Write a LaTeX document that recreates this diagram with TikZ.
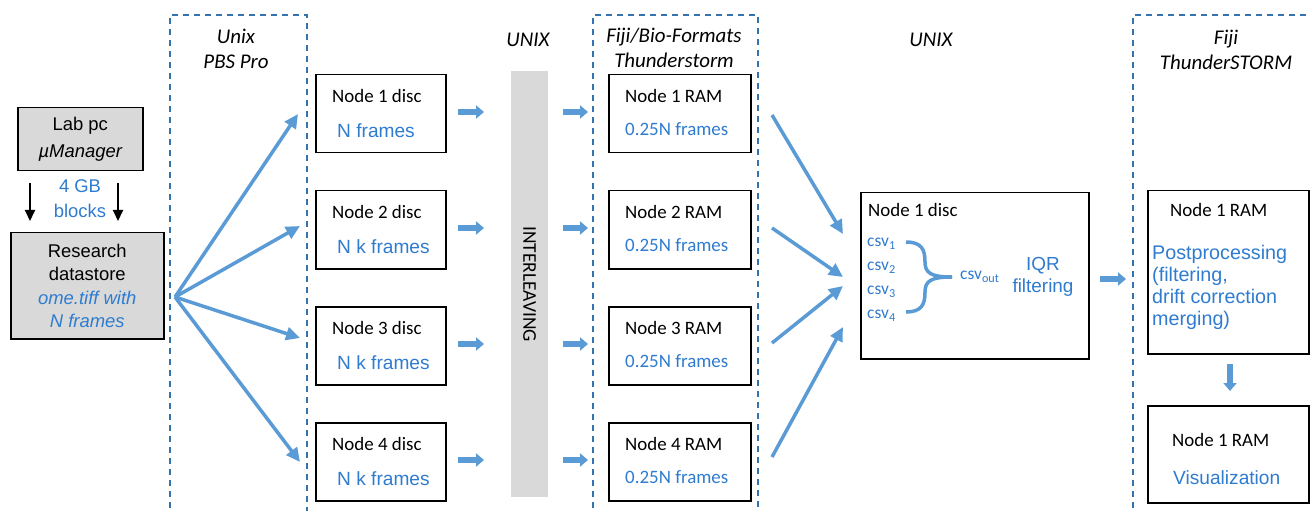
\documentclass[tikz,border=0pt]{standalone}
\usepackage{fontspec}
\setmainfont{Carlito}
\newfontfamily\arial{Liberation Sans}
\usetikzlibrary{arrows.meta}
\definecolor{arrowblue}{HTML}{5B9BD5}
\definecolor{txtblue}{HTML}{2E7BCF}
\definecolor{dashblue}{HTML}{3473AE}
\definecolor{boxgray}{HTML}{D9D9D9}
\tikzset{
  box/.style={draw=black, line width=1.5bp, inner sep=0pt},
  dbox/.style={draw=dashblue, dash pattern=on 6bp off 5bp, line width=1.8bp},
  fanarrow/.style={draw=arrowblue, line width=3.5bp, -{Triangle[length=14bp,width=13bp]}},
  fatarrow/.style={draw=arrowblue, line width=5.5bp, -{Triangle[length=8bp,width=13bp]}},
  blk/.style={font=\fontsize{19}{22}\selectfont, anchor=west, inner sep=0pt},
  blu/.style={font=\arial\fontsize{19.2}{22}\selectfont, text=txtblue, anchor=west, inner sep=0pt},
  blc/.style={font=\fontsize{19}{22}\selectfont, text=txtblue, anchor=west, inner sep=0pt},
  hdr/.style={font=\itshape\fontsize{21}{25}\selectfont, align=center, inner sep=0pt},
  csv/.style={font=\fontsize{17.5}{20}\selectfont, text=txtblue, anchor=west, inner sep=0pt},
}
\begin{document}
\begin{tikzpicture}[x=1bp,y=-1bp]
\useasboundingbox (0,0) rectangle (1310,511);
\clip (0,0) rectangle (1310,511);

% dashed group frames
\draw[dbox] (170,530) -- (170,15) -- (307,15) -- (307,530);
\draw[dbox] (593,530) -- (593,15) -- (758,15) -- (758,530);
\draw[dbox] (1133,530) -- (1133,15) -- (1330,15);

% headers
\node[hdr] (h1) at (236,49) {Unix\\PBS Pro};
\node[hdr] (h2) at (528,40) {UNIX};
\node[hdr] (h3) at (674,48) {Fiji/Bio-Formats\\Thunderstorm};
\node[hdr] (h4) at (931,40) {UNIX};
\node[hdr] (h5) at (1226,50) {Fiji\\ThunderSTORM};

% left column
\node[box, fill=boxgray, minimum width=125bp, minimum height=63bp, anchor=north west,
      align=center, font=\arial\fontsize{18.5}{27}\selectfont] (lab) at (17,107)
      {Lab pc\\\itshape µManager};
\node[box, fill=boxgray, minimum width=153bp, minimum height=106bp, anchor=north west,
      align=center, font=\arial\fontsize{18.5}{23.5}\selectfont] (rds) at (10,232)
      {Research\\datastore\\\color{txtblue}\itshape ome.tiff with\\\color{txtblue}\itshape N frames};
\coordinate (la1) at (30,183); \coordinate (la2) at (30,221);
\coordinate (lb1) at (118,183); \coordinate (lb2) at (118,221);
\draw[line width=2bp, -{Triangle[length=11bp,width=10bp]}] (la1) -- (la2);
\draw[line width=2bp, -{Triangle[length=11bp,width=10bp]}] (lb1) -- (lb2);
\node[font=\arial\fontsize{18.5}{25}\selectfont, text=txtblue, align=center, inner sep=0pt] (gb) at (80,199) {4 GB\\blocks};

% fan
\coordinate (fan) at (175,297);
\coordinate (f1) at (298,114);
\coordinate (f2) at (300,226);
\coordinate (f3) at (300,338);
\coordinate (f4) at (300,462);
\foreach \i in {1,...,4} \draw[fanarrow] (fan) -- (f\i);

% interleaving bar
\node[fill=boxgray, minimum width=37bp, minimum height=426bp, anchor=north west, inner sep=0pt] (bar) at (511,71) {};
\node[rotate=-90, font=\fontsize{19.5}{22}\selectfont, inner sep=0pt] (il) at (bar.center) {INTERLEAVING};

% rows
\foreach \i/\t/\fr in {1/74/N frames, 2/190/N k frames, 3/306/N k frames, 4/422/N k frames} {
  \node[box, minimum width=130bp, minimum height=78bp, anchor=north west] (d\i) at (315,\t) {};
  \node[blk] (dl\i) at (332,\t+22) {Node \i\ disc};
  \node[blu] (df\i) at (337,\t+57) {\fr};
  \node[box, minimum width=142bp, minimum height=78bp, anchor=north west] (r\i) at (608,\t) {};
  \node[blk] (rl\i) at (625,\t+22) {Node \i\ RAM};
  \node[blc] (rf\i) at (625,\t+55) {0.25N frames};
  \coordinate (sa\i) at (458,\t+38); \coordinate (sb\i) at (484,\t+38);
  \coordinate (sc\i) at (563,\t+38); \coordinate (sd\i) at (588,\t+38);
  \draw[fatarrow] (sa\i) -- (sb\i);
  \draw[fatarrow] (sc\i) -- (sd\i);
}

% merge box
\node[box, minimum width=228bp, minimum height=166bp, anchor=north west] (m) at (860,192) {};
\node[blk] (ml) at (868,210) {Node 1 disc};
\node[csv] (c1) at (867,244) {csv\textsubscript{1}};
\node[csv] (c2) at (867,268) {csv\textsubscript{2}};
\node[csv] (c3) at (867,292) {csv\textsubscript{3}};
\node[csv] (c4) at (867,316) {csv\textsubscript{4}};
\coordinate (bt) at (906,242); \coordinate (bb) at (906,312); \coordinate (bm) at (952,277);
\draw[arrowblue, line width=3.5bp] (bt) .. controls (922,242) and (925,250) .. (925,262)
   .. controls (925,273) and (931,277) .. (bm);
\draw[arrowblue, line width=3.5bp] (bb) .. controls (922,312) and (925,304) .. (925,292)
   .. controls (925,281) and (931,277) .. (bm);
\node[csv] (co) at (960,277) {csv\textsubscript{out}};
\node[font=\arial\fontsize{19}{22}\selectfont, text=txtblue, align=center, inner sep=0pt] (iqr) at (1043,277) {IQR\\filtering};

% converging arrows
\coordinate (m1) at (843,234);
\coordinate (m2) at (843,277);
\coordinate (m3) at (843,286);
\coordinate (m4) at (843,327);
\coordinate (o1) at (772,115);
\coordinate (o2) at (772,228);
\coordinate (o3) at (772,343);
\coordinate (o4) at (772,457);
\foreach \i in {1,...,4} \draw[fanarrow] (o\i) -- (m\i);

% right column
\coordinate (ra) at (1100,279); \coordinate (rb) at (1126,279);
\draw[fatarrow] (ra) -- (rb);
\node[box, minimum width=161bp, minimum height=163bp, anchor=north west] (p) at (1147,190) {};
\node[blk] (pl) at (1170,210) {Node 1 RAM};
\node[font=\arial\fontsize{19.8}{22}\selectfont, text=txtblue, align=left, anchor=north west, inner sep=0pt] (pt) at (1152,245)
  {Postprocessing\\(filtering,\\drift correction\\merging)};
\coordinate (da) at (1230,364); \coordinate (db) at (1230,391);
\draw[fatarrow] (da) -- (db);
\node[box, minimum width=161bp, minimum height=97bp, anchor=north west] (v) at (1147,405) {};
\node[blk] (vl) at (1172,440) {Node 1 RAM};
\node[blu] (vt) at (1173,478) {Visualization};
\end{tikzpicture}
\end{document}
